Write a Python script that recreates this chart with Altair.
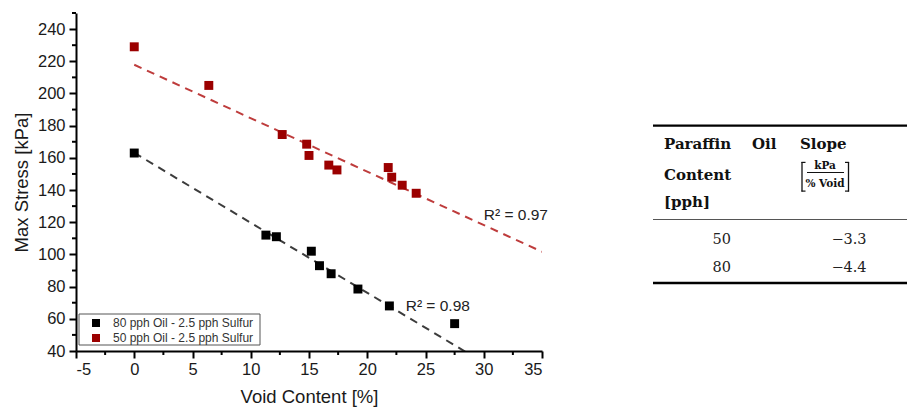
import altair as alt
import pandas as pd

# ---------------- data ----------------
series_80 = "80 pph Oil - 2.5 pph Sulfur"
series_50 = "50 pph Oil - 2.5 pph Sulfur"

void_80 = [0.0, 11.3, 12.2, 15.2, 15.9, 16.9, 19.2, 21.9, 27.5]
stress_80 = [163, 112, 111, 102, 93, 88, 78.5, 68, 57]
in_fit_80 = [True, True, True, True, True, True, True, True, False]

void_50 = [0.0, 6.4, 12.7, 14.8, 15.0, 16.7, 17.4, 21.8, 22.1, 23.0, 24.2]
stress_50 = [229, 205, 174.5, 168.5, 161.5, 155.5, 152.5, 154, 148, 143, 138]
in_fit_50 = [False, True, True, True, True, True, True, True, True, True, True]

r2_labels = ["R\u00b2 = 0.97", "R\u00b2 = 0.98"]
r2_void = [30.0, 23.3]
r2_stress = [124.5, 68.0]

x_ticks = [-5, 0, 5, 10, 15, 20, 25, 30, 35]
x_minor = [-2.5, 2.5, 7.5, 12.5, 17.5, 22.5, 27.5, 32.5]
y_ticks = [40, 60, 80, 100, 120, 140, 160, 180, 200, 220, 240]
y_minor = [50, 70, 90, 110, 130, 150, 170, 190, 210, 230, 250]

table_pph = [50, 80]
table_slope = [-3.3, -4.4]

# ---------------- tables ----------------
df = pd.DataFrame({
    "void": void_80 + void_50,
    "stress": stress_80 + stress_50,
    "fit": in_fit_80 + in_fit_50,
    "series": [series_80] * len(void_80) + [series_50] * len(void_50),
})
r2_df = pd.DataFrame({"void": r2_void, "stress": r2_stress, "label": r2_labels})
tbl = pd.DataFrame({"pph": table_pph, "slope": table_slope, "row": [0, 1]})
dummy = pd.DataFrame({"k": [0]})

W, H = 466, 338
SANS = "Liberation Sans"
SERIF = "DejaVu Serif"
BLACK = "#000000"
RED = "#9b0000"

xs = alt.Scale(domain=[-5, 35], nice=False, zero=False)
ys = alt.Scale(domain=[40, 250], nice=False, zero=False)
cs = alt.Scale(domain=[series_80, series_50], range=[BLACK, RED])

x_axis = alt.Axis(values=x_ticks, title="Void Content [%]", labelExpr="toString(datum.value)",
                  tickSize=7, labelPadding=3, titlePadding=10)
y_axis = alt.Axis(values=y_ticks, title="Max Stress [kPa]", tickSize=7, labelPadding=4,
                  titlePadding=6)
X = lambda f: alt.X(f, scale=xs, axis=x_axis)
Y = lambda f: alt.Y(f, scale=ys, axis=y_axis)


def fit_line(series, color):
    return (
        alt.Chart(df)
        .transform_filter(alt.datum.series == series)
        .transform_filter("datum.fit")
        .transform_regression("void", "stress", extent=[0, 35])
        .mark_line(strokeDash=[8, 6], strokeWidth=2, clip=True, color=color, opacity=0.85)
        .encode(x=X("void:Q"), y=Y("stress:Q"))
    )


fit_80 = fit_line(series_80, "#1a1a1a")
fit_50 = fit_line(series_50, "#b31a1a")

# legend frame (box behind the legend entries)
legend_box = alt.Chart(dummy).mark_rect(fill="white", stroke="#555", strokeWidth=1).encode(
    x=alt.value(3), x2=alt.value(184), y=alt.value(301), y2=alt.value(332))

points = (
    alt.Chart(df)
    .mark_square(size=80, opacity=1)
    .encode(
        x=X("void:Q"),
        y=Y("stress:Q"),
        color=alt.Color(
            "series:N", scale=cs,
            legend=alt.Legend(
                title=None, orient="none", legendX=3, legendY=302,
                padding=2, symbolType="square", symbolSize=64, symbolStrokeWidth=0,
                symbolOffset=9, labelOffset=11,
                labelFont=SANS, labelFontSize=12, labelColor="#333",
                rowPadding=3, labelLimit=300,
            ),
        ),
    )
)

r2 = (
    alt.Chart(r2_df)
    .mark_text(align="left", baseline="middle", font=SANS, fontSize=15.5, color="#222")
    .encode(x=X("void:Q"), y=Y("stress:Q"), text="label:N")
)

x_minor_ticks = (
    alt.Chart(pd.DataFrame({"void": x_minor}))
    .mark_rule(color="black", strokeWidth=2)
    .encode(x=X("void:Q"), y=alt.value(H), y2=alt.value(H + 4))
)
y_minor_ticks = (
    alt.Chart(pd.DataFrame({"stress": y_minor}))
    .mark_rule(color="black", strokeWidth=2)
    .encode(y=Y("stress:Q"), x=alt.value(0), x2=alt.value(-4))
)

# ---------------- table (pixel layout relative to plot origin) ----------------
def label(text, x, y, size=15, weight="bold", align="left"):
    return alt.Chart(dummy).mark_text(
        text=text, align=align, baseline="alphabetic", fontSize=size,
        fontWeight=weight, font=SERIF, color="#111",
    ).encode(x=alt.value(x), y=alt.value(y))


def hline(x1, x2, y, w, color="black"):
    return alt.Chart(dummy).mark_rule(strokeWidth=w, color=color).encode(
        x=alt.value(x1), x2=alt.value(x2), y=alt.value(y))


def vline(x, y1, y2, w=1.3, color="#111"):
    return alt.Chart(dummy).mark_rule(strokeWidth=w, color=color).encode(
        x=alt.value(x), y=alt.value(y1), y2=alt.value(y2))


TX = 577           # table left (relative)
TR = 831           # table right (relative)
table_layers = [
    hline(TX, TR, 112.7, 2.2),
    label("Paraffin", 588, 136),
    label("Oil", 676, 136),
    label("Slope", 724, 136),
    label("Content", 588, 167),
    label("[pph]", 588, 194),
    # unit fraction  [kPa / % Void]
    label("kPa", 749, 156, size=10.5, align="center"),
    hline(731, 768, 159.5, 1, "#111"),
    label("% Void", 749, 174, size=10.5, align="center"),
    vline(726, 149, 178.5), hline(725.4, 729.5, 149.4, 1.2, "#111"), hline(725.4, 729.5, 178.1, 1.2, "#111"),
    vline(772.5, 149, 178.5), hline(769, 773.1, 149.4, 1.2, "#111"), hline(769, 773.1, 178.1, 1.2, "#111"),
    hline(TX, TR, 206.5, 1.2, "#555"),
    hline(TX, TR, 270, 2.5),
]
for i in range(len(table_pph)):
    row = alt.Chart(tbl).transform_filter(f"datum.row == {i}")
    yb = 230.5 + 28.5 * i
    table_layers.append(
        row.mark_text(align="right", baseline="alphabetic", font=SERIF, fontSize=14.5, color="#222")
        .encode(x=alt.value(655), y=alt.value(yb), text=alt.Text("pph:Q", format="d"))
    )
    table_layers.append(
        row.mark_text(align="center", baseline="alphabetic", font=SERIF, fontSize=14.5, color="#222")
        .encode(x=alt.value(773), y=alt.value(yb), text=alt.Text("slope:Q", format=".1f"))
    )

chart = (
    alt.layer(fit_80, fit_50, legend_box, points, r2, x_minor_ticks, y_minor_ticks, *table_layers)
    .properties(
        width=W, height=H,
        autosize=alt.AutoSizeParams(type="none"),
        padding={"left": 76, "top": 13, "right": 365, "bottom": 60},
        background="white",
    )
    .configure_view(stroke=None)
    .configure_axis(
        grid=False, domainColor="black", domainWidth=2, tickColor="black", tickWidth=2,
        labelFont=SANS, labelFontSize=16.5, labelColor="#1a1a1a",
        titleFont=SANS, titleFontSize=18.5, titleFontWeight="normal", titleColor="#1a1a1a",
    )
)

chart.save("out.html", embed_options={"renderer": "svg", "actions": False})
